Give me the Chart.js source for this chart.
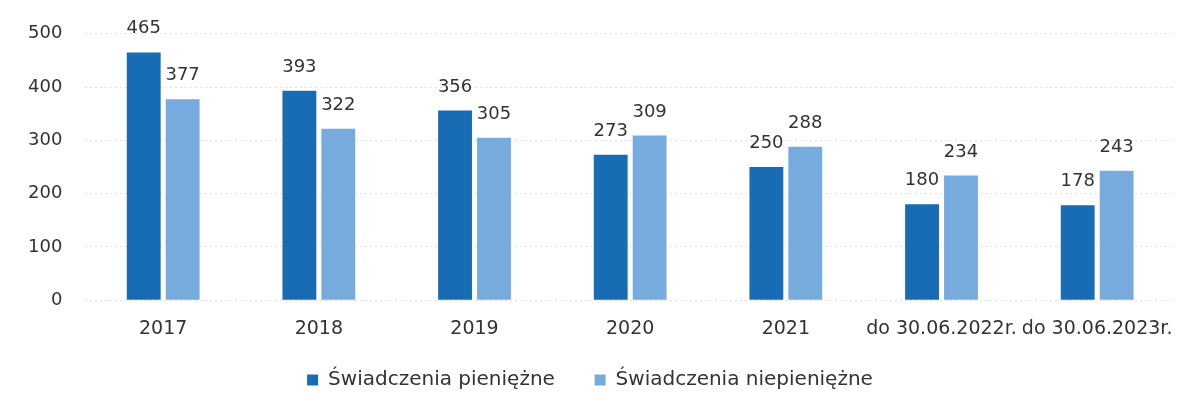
<!DOCTYPE html>
<html>
<head>
<meta charset="utf-8">
<script src="https://cdn.jsdelivr.net/npm/chart.js@4"></script>
<style>
  body { margin: 0; background: #fff; }
  #wrap { width: 1198px; height: 407px; }
</style>
</head>
<body>
<div id="wrap"><canvas id="chart-swiadczenia"></canvas></div>
<script>
const categories = ["2017", "2018", "2019", "2020", "2021", "do 30.06.2022r.", "do 30.06.2023r."];
const pieniezne = [465, 393, 356, 273, 250, 180, 178];
const niepieniezne = [377, 322, 305, 309, 288, 234, 243];
const yTicks = [0, 100, 200, 300, 400, 500];

const fontFamily = "'DejaVu Sans', sans-serif";

// values above the bars
const barValues = {
  id: "barValues",
  afterDatasetsDraw(chart) {
    const ctx = chart.ctx;
    ctx.save();
    ctx.font = "18px " + fontFamily;
    ctx.fillStyle = "#333";
    ctx.textAlign = "center";
    ctx.textBaseline = "alphabetic";
    chart.data.datasets.forEach((ds, i) => {
      chart.getDatasetMeta(i).data.forEach((bar, j) => {
        ctx.fillText(ds.data[j], bar.x, bar.y - 19);
      });
    });
    ctx.restore();
  }
};

new Chart(document.getElementById("chart-swiadczenia"), {
  type: "bar",
  data: {
    labels: categories,
    datasets: [
      {
        label: "Świadczenia pieniężne",
        backgroundColor: "#176cb3",
        data: pieniezne,
      },
      {
        label: "Świadczenia niepieniężne",
        backgroundColor: "#77aadd",
        data: niepieniezne,
      },
    ],
  },
  options: {
    responsive: true,
    maintainAspectRatio: false,
    animation: false,
    layout: { padding: { top: 25, left: 5, right: 23, bottom: 7 } },
    datasets: {
      bar: { categoryPercentage: 0.5, barPercentage: 0.87 }
    },
    scales: {
      x: {
        grid: { display: true, drawOnChartArea: false, drawTicks: true, tickLength: 14, color: "rgba(0,0,0,0)" },
        border: { display: false },
        ticks: { color: "#333", font: { family: fontFamily, size: 19 }, padding: 3, maxRotation: 0, autoSkip: false },
      },
      y: {
        min: 0,
        max: 500,
        afterBuildTicks: (axis) => { axis.ticks = yTicks.map(v => ({ value: v })); },
        grid: { color: "#e0e0e0", drawTicks: false },
        border: { display: false, dash: [2, 3] },
        ticks: { color: "#333", font: { family: fontFamily, size: 18 }, padding: 23 },
      },
    },
    plugins: {
      legend: {
        position: "bottom",
        labels: {
          color: "#333",
          font: { family: fontFamily, size: 20 },
          boxWidth: 11,
          boxHeight: 11,
          padding: 27,
          generateLabels: (chart) => {
            const items = Chart.defaults.plugins.legend.labels.generateLabels(chart);
            items[0].text += "  ";
            return items;
          },
        },
      },
      tooltip: { enabled: false },
    },
  },
  plugins: [barValues],
});
</script>
</body>
</html>
